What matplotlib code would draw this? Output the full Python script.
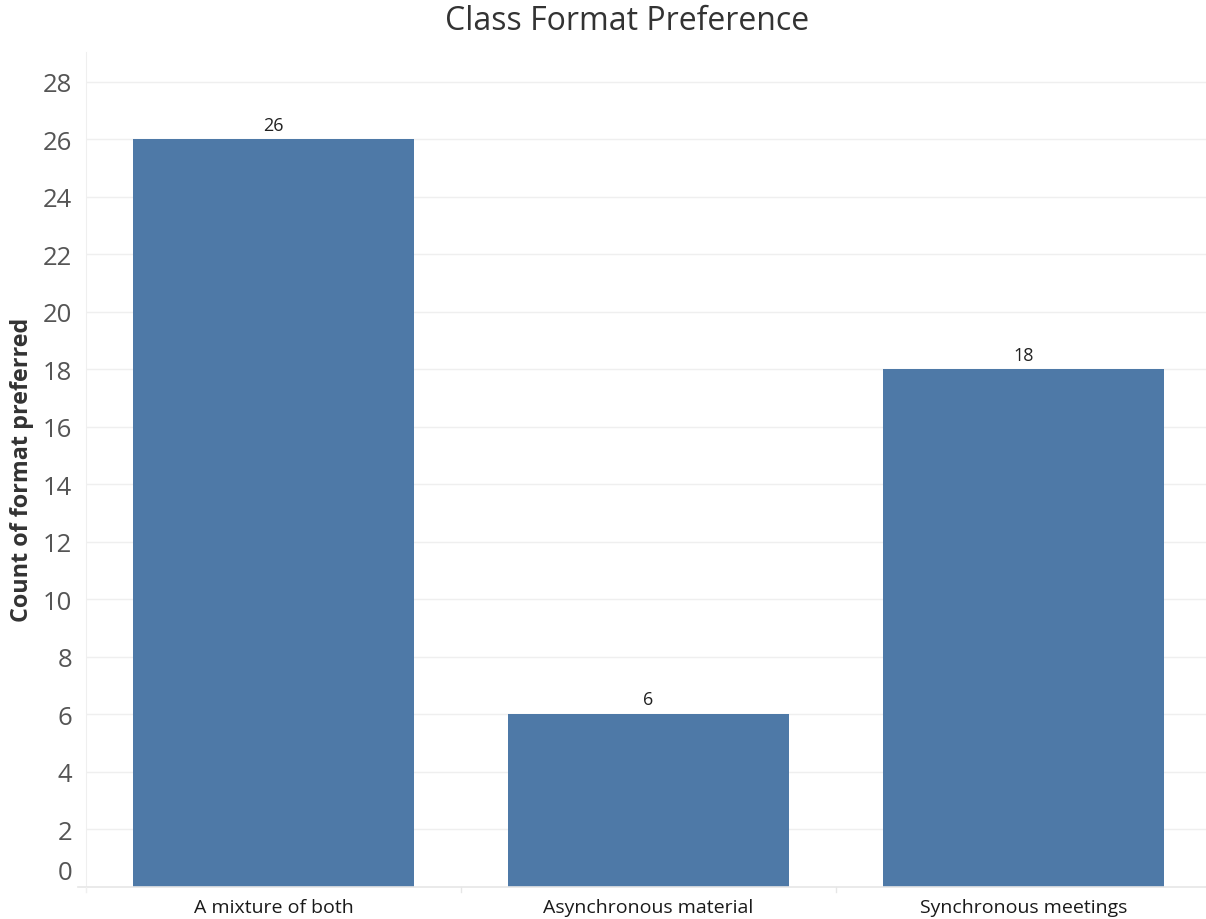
import matplotlib
matplotlib.use("Agg")
import matplotlib.pyplot as plt
from matplotlib.transforms import ScaledTranslation

plt.rcParams['font.family'] = ['Open Sans', 'DejaVu Sans']

categories = ["A mixture of both", "Asynchronous material", "Synchronous meetings"]
counts = [26, 6, 18]
y_ticks = list(range(0, 29, 2))

fig = plt.figure(figsize=(12.06, 9.2), dpi=100)
ax_w_px = 1125
ax = fig.add_axes([86 / 1206, (920 - 887.5) / 920, ax_w_px / 1206, (887.5 - 53) / 920])

x = list(range(len(categories)))
bars = ax.bar(x, counts, width=0.749, color="#4e79a7", zorder=3)

ax.set_xlim(-0.5, len(categories) - 0.5)
ax.set_ylim(0, 29.03)

ax.set_yticks(y_ticks)
ax.set_yticklabels([str(t) for t in y_ticks], fontsize=18.5, color="#555555")
ax.tick_params(axis="y", length=0, pad=10)
ax.set_xticks(x)
ax.set_xticklabels(categories, fontsize=14, color="#1a1a1a")
ax.tick_params(axis="x", length=0, pad=8)

# Lift the zero label above the baseline
for lab in ax.get_yticklabels():
    if lab.get_text() == "0":
        lab.set_transform(lab.get_transform() + ScaledTranslation(0, 17 / 100, fig.dpi_scale_trans))

# Light horizontal gridlines (skip the baseline)
for t in y_ticks[1:]:
    ax.axhline(t, color="#efefef", linewidth=1, zorder=1)

for side in ["top", "right"]:
    ax.spines[side].set_visible(False)
ax.spines["left"].set_color("#efefef")
ax.spines["left"].set_bounds(0, 29.03)
ax.spines["bottom"].set_visible(False)

# Baseline extending slightly past the left axis, plus category dividers
fig.add_artist(plt.Line2D([78 / 1206, 1.0], [(920 - 888) / 920] * 2, color="#e6e6e6", linewidth=1.2))
fig.add_artist(plt.Line2D([86 / 1206] * 2, [(920 - 893) / 920, (920 - 887.5) / 920], color="#efefef", linewidth=1))
for b in [0.5, 1.5]:
    ax.plot([b, b], [0, -0.2], color="#e6e6e6", linewidth=1, clip_on=False)

for rect, v in zip(bars, counts):
    ax.annotate(str(v), (rect.get_x() + rect.get_width() / 2, v), xytext=(0, 4),
                textcoords="offset points", ha="center", va="bottom",
                fontsize=13, color="#222222")

ax.set_ylabel("Count of format preferred", fontsize=16.8, fontweight="bold", color="#333333")
ax.yaxis.set_label_coords(-52 / ax_w_px, 0.5)

fig.text(627 / 1206, 1 - 21 / 920, "Class Format Preference", ha="center", va="center",
         fontsize=23, color="#333333")

fig.savefig("out.png", dpi=100)
